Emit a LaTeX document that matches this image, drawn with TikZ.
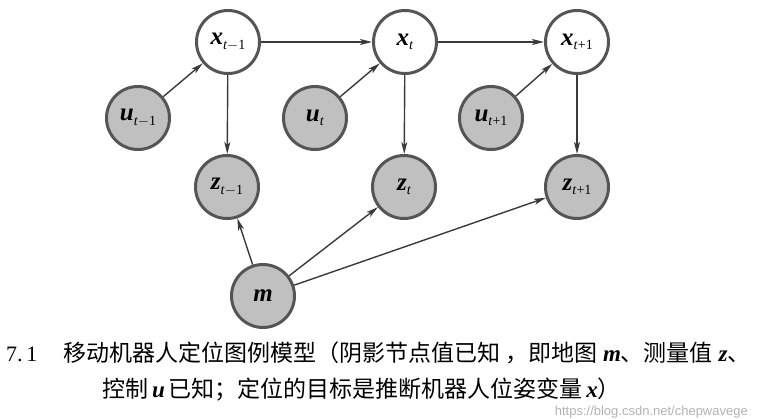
\documentclass[tikz,border=0pt]{standalone}
\usepackage{fontspec}
\setmainfont{Liberation Serif}
\newfontfamily\cjk{Noto Sans CJK SC}
\newfontfamily\wmfont{Liberation Sans}
\usetikzlibrary{arrows.meta}
\newcommand{\nlab}[2]{\textbf{\textit{#1}}\raisebox{-0.4ex}{\fontsize{14}{14}\selectfont\textit{t}#2}}
\definecolor{rim}{HTML}{555555}
\definecolor{shade}{HTML}{C0C0C0}
\definecolor{edgec}{HTML}{3A3A3A}
\tikzset{
  var/.style={circle, draw=rim, line width=3pt, minimum size=63pt, inner sep=0pt,
              font=\fontsize{25}{25}\selectfont},
  known/.style={var, fill=shade},
  free/.style={var, fill=white},
  conn/.style={draw=edgec, line width=1.4pt, -{Stealth[length=12pt,width=6pt,inset=3pt]}},
  captext/.style={anchor=base west, inner sep=0pt, font=\fontsize{23}{23}\selectfont},
}
\begin{document}
\begin{tikzpicture}[x=1pt,y=-1pt]
\useasboundingbox (0,0) rectangle (761,419);
\node[free]  (x1) at (228,42)  {\nlab{x}{$-$1}};
\node[free]  (x2) at (405,42)  {\nlab{x}{}};
\node[free]  (x3) at (577,42)  {\nlab{x}{+1}};
\node[known] (u1) at (138,118) {\nlab{u}{$-$1}};
\node[known] (u2) at (315,118) {\nlab{u}{}};
\node[known] (u3) at (491,118) {\nlab{u}{+1}};
\node[known] (z1) at (227,187) {\nlab{z}{$-$1}};
\node[known] (z2) at (404,187) {\nlab{z}{}};
\node[known] (z3) at (577,187) {\nlab{z}{+1}};
\node[known] (m)  at (263,296) {\textbf{\textit{m}}};
\draw[conn] (x1) -- (x2);
\draw[conn] (x2) -- (x3);
\draw[conn] (u1) -- (x1);
\draw[conn] (u2) -- (x2);
\draw[conn] (u3) -- (x3);
\draw[conn] (x1) -- (z1);
\draw[conn] (x2) -- (z2);
\draw[conn] (x3) -- (z3);
\draw[conn] (m) -- (z1);
\draw[conn] (m) -- (z2);
\draw[conn] (m) -- (z3);
\node[anchor=base west, inner sep=0pt, font=\fontsize{22}{22}\selectfont] (num) at (6,362) {7.\,1};
\node[captext] (cap1) at (63,362)
  {{\cjk 移动机器人定位图例模型（阴影节点值已知 ，即地图}\ \textbf{\textit{m}}{\cjk 、测量值}\ \textbf{\textit{z}}{\cjk 、}};
\node[captext] (cap2) at (102,398)
  {{\cjk 控制}\,\textbf{\textit{u}}\,{\cjk 已知；定位的目标是推断机器人位姿变量}\,\textbf{\textit{x}}{\cjk ）}};
\node[anchor=base east, inner sep=0pt, text=black!30, font=\wmfont\fontsize{13}{13}\selectfont] (wm) at (748,416) {https://blog.csdn.net/chepwavege};
\end{tikzpicture}
\end{document}
